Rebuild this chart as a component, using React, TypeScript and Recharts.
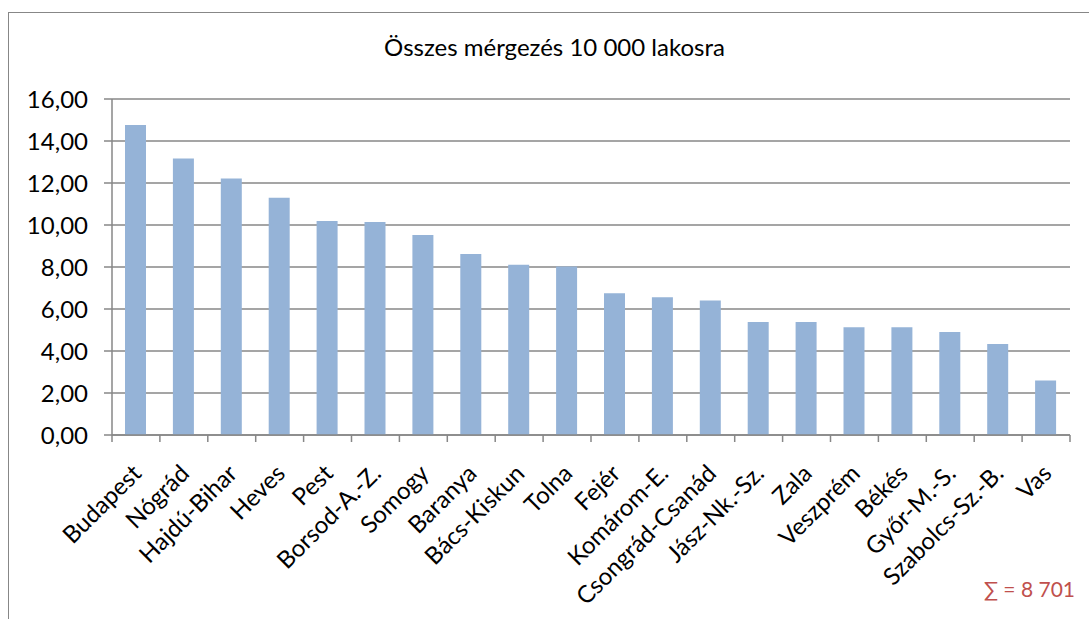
import { BarChart, Bar, XAxis, YAxis, CartesianGrid } from 'recharts';

const counties = [
  'Budapest', 'Nógrád', 'Hajdú-Bihar', 'Heves', 'Pest', 'Borsod-A.-Z.', 'Somogy', 'Baranya',
  'Bács-Kiskun', 'Tolna', 'Fejér', 'Komárom-E.', 'Csongrád-Csanád', 'Jász-Nk.-Sz.', 'Zala',
  'Veszprém', 'Békés', 'Győr-M.-S.', 'Szabolcs-Sz.-B.', 'Vas',
];
const rates = [
  14.76, 13.17, 12.21, 11.3, 10.19, 10.14, 9.52, 8.62, 8.11, 8.02, 6.75, 6.56, 6.41, 5.38, 5.38,
  5.13, 5.13, 4.9, 4.33, 2.6,
];
const yTicks = [0, 2, 4, 6, 8, 10, 12, 14, 16];
const title = 'Összes mérgezés 10 000 lakosra';
const total = '∑ = 8 701';

const data = counties.map((name, i) => ({ name, value: rates[i] }));

const W = 1089;
const H = 619;
const LEFT = 112;
const RIGHT = 19;
const TOP = 99;
const XAXIS_H = 184;
const band = (W - LEFT - RIGHT) / counties.length;
const font = 'Lato, "Open Sans", sans-serif';
const gray = '#878787';

// category-boundary tick marks (Excel style) + rotated label
const XTick = (props: any) => {
  const { x, payload, index } = props;
  const axisY = H - XAXIS_H;
  return (
    <g>
      <line x1={x - band / 2} x2={x - band / 2} y1={axisY} y2={axisY + 7} stroke={gray} strokeWidth={1.5} />
      {index === counties.length - 1 && (
        <line x1={x + band / 2} x2={x + band / 2} y1={axisY} y2={axisY + 7} stroke={gray} strokeWidth={1.5} />
      )}
      <g transform={`translate(${x + 1},${axisY + 34})`}>
        <text x={0} y={0} dy="0.35em" textAnchor="end" transform="rotate(-45)" fontSize={24} fill="#000" fontFamily={font}>
          {payload.value}
        </text>
      </g>
    </g>
  );
};

export default function App() {
  return (
    <div style={{ position: 'absolute', left: 0, top: 0, width: W, height: H, overflow: 'hidden', background: '#fff' }}>
      <div style={{ position: 'absolute', left: 8, top: 12, width: 1200, height: 800, border: `1px solid ${gray}` }} />
      <div style={{ position: 'absolute', left: 0, right: 0, top: 32, textAlign: 'center', fontFamily: font, fontSize: 24, color: '#000', paddingLeft: 20 }}>
        {title}
      </div>
      <div style={{ position: 'absolute', left: 0, top: 0 }}>
        <BarChart width={W} height={H} data={data} margin={{ top: TOP, right: RIGHT, bottom: 0, left: 0 }} barSize={21}>
          <CartesianGrid vertical={false} stroke={gray} strokeWidth={1.5} />
          <XAxis
            dataKey="name"
            height={XAXIS_H}
            interval={0}
            axisLine={{ stroke: gray, strokeWidth: 1.5 }}
            tickLine={false}
            tick={<XTick />}
          />
          <YAxis
            width={LEFT}
            domain={[0, 16]}
            ticks={yTicks}
            interval={0}
            tickFormatter={(v: number) => v.toFixed(2).replace('.', ',')}
            axisLine={{ stroke: gray, strokeWidth: 1.5 }}
            tickLine={{ stroke: gray, strokeWidth: 1.5 }}
            tickSize={8}
            tickMargin={16}
            tick={{ fill: '#000', fontSize: 24, fontFamily: font }}
          />
          <Bar dataKey="value" fill="#95B3D7" isAnimationActive={false} />
        </BarChart>
      </div>
      <div style={{ position: 'absolute', right: 14, top: 576, fontFamily: font, fontSize: 21, color: '#C0504D' }}>
        {total}
      </div>
    </div>
  );
}
